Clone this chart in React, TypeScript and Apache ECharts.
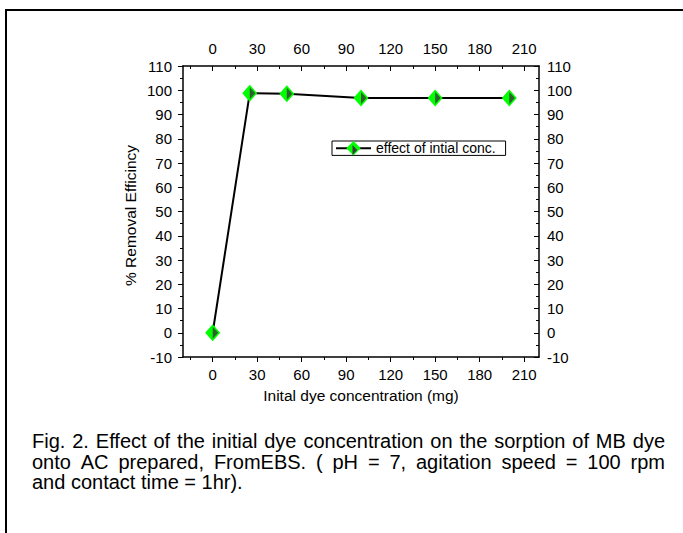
import React, { useEffect, useRef } from "react";
import * as echarts from "echarts";

// ---- data ----
const concentrations = [0, 25, 50, 100, 150, 200];
const removalEfficiency = [0, 98.8, 98.6, 96.8, 96.8, 96.8];
const xTickValues = [0, 30, 60, 90, 120, 150, 180, 210];
const xMinorTickValues = [-15, 15, 45, 75, 105, 135, 165, 195];
const seriesName = "effect of intial conc.";
const xAxisTitle = "Inital dye concentration (mg)";
const yAxisTitle = "% Removal Efficincy";
const captionLines = [
  "Fig. 2. Effect of the initial dye concentration on the sorption of MB dye",
  "onto AC prepared, FromEBS. ( pH = 7, agitation speed = 100 rpm",
  "and contact time = 1hr).",
];

const FONT = '"Liberation Sans", Arial, sans-serif';

function captionElements() {
  const fontSize = 20;
  const left = 32;
  const right = 665;
  const centers = [441, 461.5, 482];
  const canvas = document.createElement("canvas");
  const ctx = canvas.getContext("2d")!;
  ctx.font = `${fontSize}px ${FONT}`;
  const els: any[] = [];
  captionLines.forEach((line, li) => {
    const justify = li < captionLines.length - 1;
    const y = centers[li];
    if (!justify) {
      els.push({
        type: "text",
        x: left,
        y,
        silent: true,
        style: { text: line, fontSize, fontFamily: FONT, fill: "#000", align: "left", verticalAlign: "middle" },
      });
      return;
    }
    const words = line.split(" ");
    const widths = words.map((w) => ctx.measureText(w).width);
    const total = widths.reduce((a, b) => a + b, 0);
    const gap = (right - left - total) / (words.length - 1);
    let x = left;
    words.forEach((w, i) => {
      els.push({
        type: "text",
        x,
        y,
        silent: true,
        style: { text: w, fontSize, fontFamily: FONT, fill: "#000", align: "left", verticalAlign: "middle" },
      });
      x += widths[i] + gap;
    });
  });
  return els;
}

export default function App() {
  const ref = useRef<HTMLDivElement>(null);
  useEffect(() => {
    document.body.style.margin = "0";
    const chart = echarts.init(ref.current!, null, { renderer: "svg" });
    const points = concentrations.map((c, i) => [c, removalEfficiency[i]]);
    const gridBox = { left: 183, top: 66, right: 144, bottom: 176, outerBoundsMode: "none" };
    const axisLineStyle = { color: "#000", width: 1.5 };
    const tickLine = { color: "#000", width: 1 };
    const labelStyle = { color: "#000", fontSize: 15, fontFamily: FONT };
    const option: any = {
      animation: false,
      textStyle: { fontFamily: FONT },
      grid: [gridBox, { ...gridBox }],
      legend: {
        data: [seriesName],
        left: 332,
        top: 141,
        padding: [0, 10, 0, 3],
        itemWidth: 35,
        itemHeight: 18,
        borderColor: "#000",
        borderWidth: 1,
        borderRadius: 0,
        selectedMode: false,
        textStyle: { color: "#000", fontSize: 14, fontFamily: FONT },
      },
      xAxis: [
        {
          type: "value",
          gridIndex: 0,
          position: "bottom",
          min: -20,
          max: 220,
          axisLine: { show: true, onZero: false, lineStyle: axisLineStyle },
          axisTick: { show: true, customValues: xTickValues, length: 5, lineStyle: tickLine },
          axisLabel: { customValues: xTickValues, ...labelStyle, margin: 10 },
          splitLine: { show: false },
          name: xAxisTitle,
          nameLocation: "middle",
          nameGap: 30,
          nameMoveOverlap: false,
          nameTextStyle: { color: "#000", fontSize: 15.5, fontFamily: FONT },
        },
        {
          type: "value",
          gridIndex: 0,
          position: "top",
          min: -20,
          max: 220,
          axisLine: { show: true, onZero: false, lineStyle: axisLineStyle },
          axisTick: { show: true, inside: true, customValues: xTickValues, length: 5, lineStyle: tickLine },
          axisLabel: { customValues: xTickValues, ...labelStyle, margin: 10 },
          splitLine: { show: false },
        },
        {
          type: "value",
          gridIndex: 1,
          position: "bottom",
          min: -20,
          max: 220,
          axisLine: { show: false, onZero: false },
          axisTick: { show: true, customValues: xMinorTickValues, length: 3, lineStyle: tickLine },
          axisLabel: { show: false },
          splitLine: { show: false },
        },
        {
          type: "value",
          gridIndex: 1,
          position: "top",
          min: -20,
          max: 220,
          axisLine: { show: false, onZero: false },
          axisTick: { show: true, inside: true, customValues: xMinorTickValues, length: 3, lineStyle: tickLine },
          axisLabel: { show: false },
          splitLine: { show: false },
        },
      ],
      yAxis: [
        {
          type: "value",
          gridIndex: 0,
          position: "left",
          min: -10,
          max: 110,
          interval: 10,
          axisLine: { show: true, onZero: false, lineStyle: axisLineStyle },
          axisTick: { show: true, length: 5, lineStyle: tickLine },
          minorTick: { show: true, splitNumber: 2, length: 3, lineStyle: tickLine },
          axisLabel: { ...labelStyle, margin: 11 },
          splitLine: { show: false },
          minorSplitLine: { show: false },
          name: yAxisTitle,
          nameLocation: "middle",
          nameGap: 45,
          nameMoveOverlap: false,
          nameTextStyle: { color: "#000", fontSize: 15.5, fontFamily: FONT, padding: [0, 8, 0, 0] },
        },
        {
          type: "value",
          gridIndex: 0,
          position: "right",
          min: -10,
          max: 110,
          interval: 10,
          axisLine: { show: true, onZero: false, lineStyle: axisLineStyle },
          axisTick: { show: true, inside: true, length: 5, lineStyle: tickLine },
          minorTick: { show: true, splitNumber: 2, length: 3, lineStyle: tickLine },
          axisLabel: { ...labelStyle, margin: 8 },
          splitLine: { show: false },
          minorSplitLine: { show: false },
        },
        {
          type: "value",
          gridIndex: 1,
          show: false,
          min: -10,
          max: 110,
        },
      ],
      series: [
        {
          type: "line",
          name: seriesName,
          xAxisIndex: 0,
          yAxisIndex: 0,
          data: points,
          symbol: "diamond",
          symbolSize: [15, 17],
          showAllSymbol: true,
          itemStyle: { color: "#00ff00" },
          lineStyle: { color: "#000", width: 2 },
          emphasis: { disabled: true },
          z: 3,
        },
        {
          type: "scatter",
          name: "shade",
          xAxisIndex: 0,
          yAxisIndex: 0,
          data: points,
          symbol: "path://M0,0L1,1L0,2Z",
          symbolSize: [5.5, 12],
          symbolOffset: [2.75, 0],
          itemStyle: { color: "#3a3a3a" },
          emphasis: { disabled: true },
          silent: true,
          z: 4,
        },
      ],
      graphic: [
        {
          type: "rect",
          silent: true,
          shape: { x: 6, y: 10, width: 1000, height: 1000 },
          style: { fill: "none", stroke: "#000", lineWidth: 2 },
        },
        {
          type: "polygon",
          silent: true,
          z: 100,
          shape: { points: [[352.5, 145], [357.2, 150], [352.5, 155]] },
          style: { fill: "#3a3a3a" },
        },
        ...captionElements(),
      ],
    };
    chart.setOption(option);
    return () => chart.dispose();
  }, []);
  return <div ref={ref} style={{ width: 683, height: 533 }} />;
}
